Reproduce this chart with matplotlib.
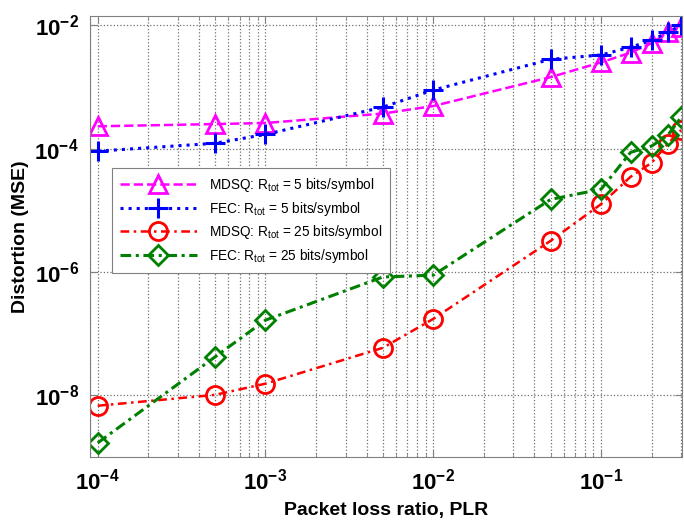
import numpy as np
import matplotlib
matplotlib.use('Agg')
import matplotlib.pyplot as plt
from matplotlib.ticker import FixedLocator, FuncFormatter, LogLocator, NullFormatter

plt.rcParams['font.family'] = 'Liberation Sans'
plt.rcParams['mathtext.fontset'] = 'custom'
plt.rcParams['mathtext.rm'] = 'Liberation Sans'
plt.rcParams['mathtext.bf'] = 'Liberation Sans:bold'
plt.rcParams['mathtext.it'] = 'Liberation Sans:italic'

# Packet loss ratio
plr = [1e-4, 5e-4, 1e-3, 5e-3, 1e-2, 5e-2, 0.1, 0.15, 0.2, 0.25, 0.3]

# Distortion (MSE) per scheme
mdsq_5 = [2.3e-4, 2.5e-4, 2.6e-4, 3.7e-4, 4.9e-4, 1.44e-3, 2.5e-3, 3.6e-3, 5.1e-3, 7.7e-3, 9.3e-3]
fec_5 = [9.1e-5, 1.22e-4, 1.7e-4, 4.7e-4, 8.9e-4, 2.8e-3, 3.3e-3, 4.4e-3, 5.7e-3, 7.7e-3, 1.0e-2]
mdsq_25 = [6.8e-9, 1.02e-8, 1.55e-8, 5.9e-8, 1.74e-7, 3.2e-6, 1.26e-5, 3.5e-5, 5.9e-5, 1.2e-4, 2.0e-4]
fec_25 = [1.7e-9, 4.2e-8, 1.66e-7, 8.3e-7, 8.9e-7, 1.5e-5, 2.2e-5, 8.7e-5, 1.1e-4, 1.66e-4, 3.2e-4]

labels = [r'MDSQ: R$_{\rm tot}$ = 5 bits/symbol',
          r'FEC: R$_{\rm tot}$ = 5 bits/symbol',
          r'MDSQ: R$_{\rm tot}$ = 25 bits/symbol',
          r'FEC: R$_{\rm tot}$ = 25 bits/symbol']

fig = plt.figure(figsize=(6.84, 5.23), dpi=100)
ax = fig.add_axes([0.1316, 0.126, 0.866, 0.843])

ax.loglog(plr, mdsq_5, '--', color='#ff00ff', lw=1.8, marker='^', ms=13,
          mfc='none', mew=2, label=labels[0])
ax.loglog(plr, fec_5, ':', color='#0000ff', lw=2.2, marker='+', ms=15,
          mew=2.2, label=labels[1])
ax.loglog(plr, mdsq_25, color='#ff0000', lw=1.8, dashes=(3.5, 1.8, 1, 1.8),
          marker='o', ms=13, mfc='none', mew=2, label=labels[2])
ax.loglog(plr, fec_25, color='#008000', lw=2.2, dashes=(3.5, 1.5, 1, 1.5),
          marker='D', ms=10, mfc='none', mew=2, label=labels[3])

ax.set_xlim(9e-5, 0.305)
ax.set_ylim(1e-9, 1.4e-2)

ax.yaxis.set_major_locator(FixedLocator([1e-8, 1e-6, 1e-4, 1e-2]))
ax.yaxis.set_minor_locator(FixedLocator([]))
ax.xaxis.set_major_locator(FixedLocator([1e-4, 1e-3, 1e-2, 1e-1]))
ax.xaxis.set_minor_locator(LogLocator(base=10, subs=np.arange(2, 10), numticks=20))
ax.xaxis.set_minor_formatter(NullFormatter())

fmt = FuncFormatter(lambda v, p: r'$\mathbf{10^{%d}}$' % round(np.log10(v)))
ax.xaxis.set_major_formatter(fmt)
ax.yaxis.set_major_formatter(fmt)

ax.grid(True, which='major', linestyle=':', color='#707070', lw=0.9)
ax.grid(True, which='minor', axis='x', linestyle=':', color='#707070', lw=0.9)
ax.tick_params(which='both', direction='in', top=True, right=True, color='#808080')
ax.tick_params(which='major', length=5, labelsize=16, pad=8)
ax.tick_params(which='minor', length=3)
for s in ax.spines.values():
    s.set_color('#808080')

ax.set_xlabel('Packet loss ratio, PLR', fontsize=14, fontweight='bold', labelpad=6)
ax.set_ylabel('Distortion (MSE)', fontsize=14, fontweight='bold', labelpad=4)

leg = ax.legend(loc='upper left', bbox_to_anchor=(0.026, 0.672), fontsize=9.8,
                handlelength=5.6, handletextpad=0.9, fancybox=False, framealpha=1,
                edgecolor='#808080', borderpad=0.6, labelspacing=0.42)
leg.get_frame().set_linewidth(0.8)

fig.savefig('out.png', dpi=100)
